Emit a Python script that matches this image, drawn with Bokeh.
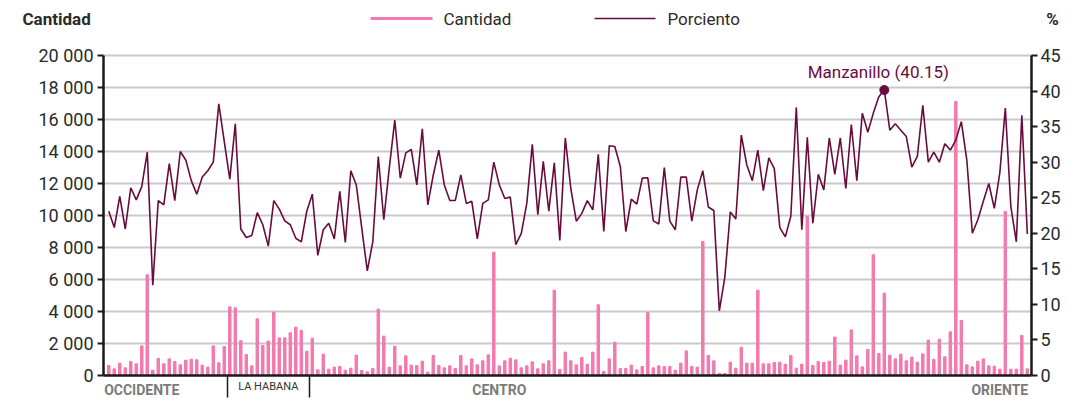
from bokeh.plotting import figure
from bokeh.models import (Range1d, LinearAxis, FixedTicker, Label, ColumnDataSource)
from bokeh.embed import file_html
from bokeh.resources import INLINE

# ---------------- data ----------------
cantidad = [
    625, 417, 770, 480, 875, 730, 1850, 6290, 333, 1060,
    730, 1040, 875, 667, 958, 1020, 980, 646, 520, 1850,
    790, 1810, 4290, 4230, 2170, 1310, 604, 3540, 1875, 2150,
    3960, 2350, 2350, 2670, 3020, 2810, 1520, 2330, 354, 1333,
    396, 520, 560, 333, 458, 1270, 312, 229, 437, 4150,
    2460, 520, 1830, 604, 1230, 646, 625, 896, 208, 1250,
    625, 480, 604, 437, 1250, 604, 1040, 667, 917, 1290,
    7710, 604, 917, 1083, 980, 480, 604, 854, 417, 730,
    917, 5330, 375, 1460, 917, 667, 1125, 708, 1460, 4420,
    250, 1040, 2080, 437, 437, 646, 354, 562, 3940, 480,
    604, 562, 562, 333, 770, 1540, 562, 520, 8375, 1250,
    917, 125, 125, 833, 458, 1770, 770, 770, 5330, 730,
    730, 812, 833, 708, 1250, 458, 708, 9940, 625, 875,
    812, 896, 2400, 646, 958, 2850, 1230, 542, 1625, 7540,
    1375, 5150, 1270, 1040, 1333, 917, 1146, 833, 1354, 2210,
    1000, 2270, 1170, 2730, 17120, 3440, 667, 542, 896, 1040,
    604, 583, 396, 10250, 396, 396, 2500, 417,
]
porciento = [
    23.1, 20.8, 25.2, 20.6, 26.4, 24.7, 26.6, 31.4, 12.7, 24.6,
    24.0, 29.8, 24.6, 31.5, 30.3, 27.4, 25.5, 27.9, 28.8, 30.0,
    38.2, 32.9, 27.6, 35.4, 20.6, 19.4, 19.7, 22.9, 21.2, 18.2,
    24.6, 23.4, 21.75, 21.2, 19.3, 18.8, 23.1, 25.5, 16.9, 20.5,
    21.4, 19.2, 25.9, 18.7, 28.8, 26.8, 20.7, 14.7, 18.8, 30.8,
    21.9, 29.2, 35.9, 27.75, 31.3, 31.8, 26.8, 34.7, 24.0, 28.2,
    31.7, 26.8, 24.6, 24.6, 28.2, 24.2, 24.5, 19.2, 24.2, 24.7,
    30.0, 26.8, 24.9, 25.1, 18.4, 20.0, 24.2, 32.5, 22.6, 30.1,
    23.1, 29.9, 19.0, 33.4, 26.3, 21.7, 22.8, 24.6, 23.3, 31.1,
    20.25, 32.3, 32.2, 29.4, 20.25, 24.8, 24.1, 27.75, 27.8, 21.75,
    21.3, 29.25, 21.7, 20.5, 27.9, 27.9, 21.7, 26.1, 28.8, 23.7,
    23.2, 9.1, 13.8, 23.0, 22.0, 33.8, 29.6, 27.4, 31.7, 26.0,
    30.6, 29.1, 20.8, 19.5, 22.4, 37.7, 20.5, 33.5, 21.4, 28.3,
    26.1, 33.4, 28.3, 33.4, 26.3, 35.3, 27.4, 36.9, 34.2, 36.9,
    39.2, 40.15, 34.5, 35.4, 34.5, 33.6, 29.3, 30.8, 38.0, 30.0,
    31.4, 30.0, 32.6, 31.7, 33.1, 35.7, 30.3, 20.0, 21.9, 24.5,
    27.0, 23.5, 28.5, 37.6, 23.8, 18.8, 36.6, 19.9,
]
destacado = "Manzanillo"
series_names = ["Cantidad", "Porciento"]
regiones = ["OCCIDENTE", "LA HABANA", "CENTRO", "ORIENTE"]
regiones_pos = [7, 30, 72, 163]          # municipality index under which each region name sits
limites_regiones = [22, 37]              # last municipality of occidente / la habana
ticks_cant = [0, 2000, 4000, 6000, 8000, 10000, 12000, 14000, 16000, 18000, 20000]
ticks_cant_labels = ["0", "2 000", "4 000", "6 000", "8 000", "10 000",
                     "12 000", "14 000", "16 000", "18 000", "20 000"]
ticks_pct = [0, 5, 10, 15, 20, 25, 30, 35, 40, 45]
CANT_MAX, PCT_MAX = 20000, 45

# ---------------- style / layout ----------------
PINK = "#f27aae"
MAROON = "#6a0b3e"
GRID = "#c9c9cc"
AX = "#1a1a1a"
FONT = "Roboto"
TXT = "#2a2a2a"
GREY = "#7b7b7b"
W, H = 1083, 403
FL, FR, FT, FB = 103, 1031, 55, 375      # plotting area edges on the canvas (px)

n = len(cantidad)
xs = list(range(1, n + 1))
xlo, xhi = 0.04, n + 0.76
sx = (xhi - xlo) / (FR - FL)
sy = CANT_MAX / (FB - FT)
sp = PCT_MAX / (FB - FT)
X0, X1 = xlo - FL * sx, xhi + (W - FR) * sx
Y0, Y1 = -(H - FB) * sy, CANT_MAX + FT * sy
P0, P1 = -(H - FB) * sp, PCT_MAX + FT * sp


def px2x(px):
    return X0 + px * sx


def py2y(py):
    return Y1 - py * sy


src = ColumnDataSource(dict(x=xs, cantidad=cantidad, pct=porciento))

p = figure(width=W, height=H, x_range=Range1d(X0, X1), y_range=Range1d(Y0, Y1),
           x_axis_location=None, y_axis_location=None,
           output_backend="svg", toolbar_location=None,
           min_border_left=0, min_border_right=0, min_border_top=0,
           min_border_bottom=0)
p.outline_line_color = None
p.grid.visible = False
p.extra_y_ranges = {"pct": Range1d(P0, P1)}

# horizontal grid lines (from the left-axis ticks)
p.segment(x0=[xlo] * len(ticks_cant[1:]), x1=[xhi] * len(ticks_cant[1:]),
          y0=ticks_cant[1:], y1=ticks_cant[1:], line_color=GRID, line_width=2)

# left axis
ya = LinearAxis(fixed_location=xlo, bounds=(0, CANT_MAX),
                ticker=FixedTicker(ticks=ticks_cant))
ya.major_label_overrides = {t: l for t, l in zip(ticks_cant, ticks_cant_labels)}
# right axis
ra = LinearAxis(y_range_name="pct", fixed_location=xhi, bounds=(0, PCT_MAX),
                ticker=FixedTicker(ticks=ticks_pct))
for ax in (ya, ra):
    ax.minor_tick_line_color = None
    ax.major_tick_in = 0
    ax.major_tick_out = 6
    ax.major_tick_line_width = 2
    ax.major_tick_line_color = AX
    ax.axis_line_width = 2.5
    ax.axis_line_color = AX
    ax.major_label_standoff = 4
    ax.major_label_text_font = FONT
    ax.major_label_text_font_size = "18px"
    ax.major_label_text_color = TXT
ra.major_label_standoff = 3
p.add_layout(ya, "left")
p.add_layout(ra, "right")

# bottom axis with region separators
xa = LinearAxis(fixed_location=0, bounds=(xlo, xhi),
                ticker=FixedTicker(ticks=[b + 0.5 for b in limites_regiones]))
xa.major_label_overrides = {b + 0.5: "" for b in limites_regiones}
xa.minor_tick_line_color = None
xa.major_tick_in = 0
xa.major_tick_out = 22
xa.major_tick_line_width = 1.5
xa.major_tick_line_color = AX
xa.axis_line_width = 2.5
xa.axis_line_color = AX
p.add_layout(xa, "below")

# marks
p.vbar(x="x", top="cantidad", width=0.45, color=PINK, source=src)
p.line(x="x", y="pct", y_range_name="pct", color=MAROON, line_width=1.6,
       source=src)

imax = max(range(n), key=lambda i: porciento[i])
p.scatter(x=[xs[imax]], y=[porciento[imax]], y_range_name="pct",
          size=9, color=MAROON)
p.add_layout(Label(x=xs[imax], y=porciento[imax], y_range_name="pct",
                   text=f"{destacado} ({porciento[imax]:.2f})",
                   x_offset=-6, y_offset=18, text_align="center",
                   text_baseline="middle", text_font=FONT,
                   text_font_size="17px", text_color=MAROON))

# header row: axis titles and legend
HY = 18
p.segment(x0=[px2x(370), px2x(594)], x1=[px2x(432), px2x(655)],
          y0=[py2y(HY)] * 2, y1=[py2y(HY)] * 2,
          line_color=[PINK, MAROON], line_width=[3, 1.6])


def slabel(text, x, y, align="left", size="17px", style="normal", color=TXT):
    p.add_layout(Label(x=x, y=H - y, x_units="screen", y_units="screen",
                       text=text, text_align=align, text_baseline="middle",
                       text_font=FONT, text_font_size=size,
                       text_font_style=style, text_color=color))


slabel(series_names[0], 22, HY, size="17px", style="bold")
slabel(series_names[0], 443, HY)
slabel(series_names[1], 667, HY)
slabel("%", 1052, HY, align="center", size="17px", style="bold")

# region names under the axis
for name, pos in zip(regiones, regiones_pos):
    small = name == "LA HABANA"
    p.add_layout(Label(x=pos, y=H - (386 if small else 389), y_units="screen",
                       text=name, text_align="center", text_baseline="middle",
                       text_font=FONT, text_font_size="11px" if small else "14px",
                       text_font_style="normal" if small else "bold",
                       text_color="#333333" if small else GREY))

open("out.html", "w").write(file_html(p, INLINE))
